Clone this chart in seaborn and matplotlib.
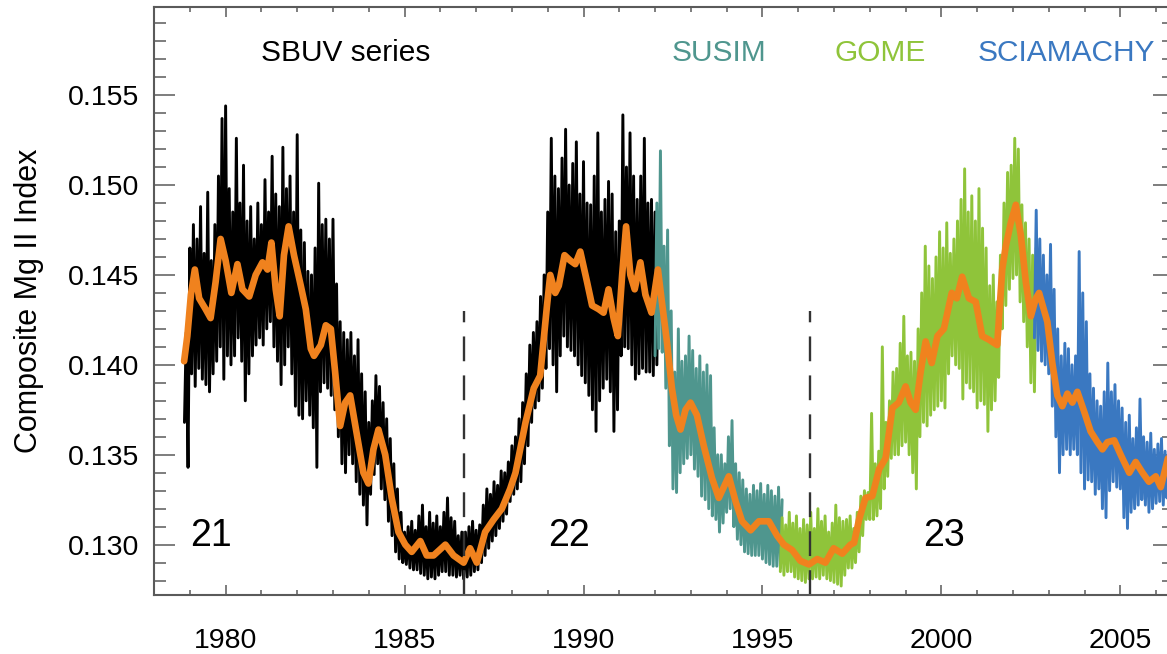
import numpy as np
import pandas as pd
import matplotlib
matplotlib.use("Agg")
import matplotlib.pyplot as plt
from matplotlib.ticker import MultipleLocator, FormatStrFormatter
import seaborn as sns

# ---- daily Mg II composite, per instrument: upper / lower excursion every 0.1 yr ----
sbuv_start = 1978.85
sbuv_hi = [0.1418, 0.1465, 0.1478, 0.1470, 0.1488, 0.1462, 0.1496, 0.1458, 0.1478, 0.1505,
           0.1537, 0.1544, 0.1498, 0.1485, 0.1526, 0.1490, 0.1511, 0.1480, 0.1488, 0.1470,
           0.1490, 0.1478, 0.1503, 0.1485, 0.1516, 0.1495, 0.1488, 0.1521, 0.1498, 0.1505,
           0.1485, 0.1528, 0.1475, 0.1468, 0.1452, 0.1450, 0.1465, 0.1501, 0.1478, 0.1481,
           0.1470, 0.1481, 0.1445, 0.1424, 0.1418, 0.1414, 0.1418, 0.1405, 0.1414, 0.1395,
           0.1385, 0.1368, 0.1380, 0.1394, 0.1388, 0.1379, 0.1370, 0.1359, 0.1345, 0.1331,
           0.1318, 0.1307, 0.1310, 0.1313, 0.1308, 0.1316, 0.1322, 0.1310, 0.1318, 0.1312,
           0.1316, 0.1310, 0.1318, 0.1326, 0.1315, 0.1313, 0.1305, 0.1307, 0.1307, 0.1310,
           0.1313, 0.1308, 0.1311, 0.1322, 0.1331, 0.1328, 0.1335, 0.1333, 0.1341, 0.1340,
           0.1346, 0.1355, 0.1360, 0.1370, 0.1379, 0.1395, 0.1411, 0.1418, 0.1424, 0.1438,
           0.1450, 0.1485, 0.1526, 0.1505, 0.1498, 0.1515, 0.1531, 0.1500, 0.1512, 0.1524,
           0.1495, 0.1513, 0.1490, 0.1489, 0.1505, 0.1529, 0.1485, 0.1492, 0.1502, 0.1495,
           0.1474, 0.1480, 0.1539, 0.1510, 0.1529, 0.1505, 0.1492, 0.1505, 0.1526, 0.1490,
           0.1492, 0.1485, 0.1480]
sbuv_lo = [0.1368, 0.1343, 0.1395, 0.1388, 0.1398, 0.1392, 0.1389, 0.1385, 0.1395, 0.1402,
           0.1410, 0.1392, 0.1405, 0.1400, 0.1405, 0.1415, 0.1402, 0.1380, 0.1395, 0.1405,
           0.1411, 0.1415, 0.1411, 0.1420, 0.1424, 0.1410, 0.1402, 0.1389, 0.1400, 0.1410,
           0.1395, 0.1377, 0.1372, 0.1370, 0.1380, 0.1372, 0.1365, 0.1343, 0.1385, 0.1390,
           0.1387, 0.1383, 0.1375, 0.1360, 0.1345, 0.1340, 0.1350, 0.1345, 0.1335, 0.1328,
           0.1322, 0.1311, 0.1328, 0.1339, 0.1345, 0.1331, 0.1325, 0.1313, 0.1305, 0.1296,
           0.1292, 0.1290, 0.1289, 0.1287, 0.1286, 0.1286, 0.1284, 0.1283, 0.1281, 0.1282,
           0.1281, 0.1283, 0.1285, 0.1285, 0.1283, 0.1283, 0.1282, 0.1283, 0.1281, 0.1282,
           0.1283, 0.1285, 0.1286, 0.1290, 0.1294, 0.1298, 0.1302, 0.1305, 0.1309, 0.1313,
           0.1317, 0.1324, 0.1328, 0.1331, 0.1335, 0.1345, 0.1355, 0.1368, 0.1376, 0.1380,
           0.1387, 0.1398, 0.1409, 0.1400, 0.1385, 0.1405, 0.1416, 0.1410, 0.1408, 0.1405,
           0.1400, 0.1394, 0.1390, 0.1383, 0.1375, 0.1363, 0.1380, 0.1387, 0.1392, 0.1385,
           0.1363, 0.1375, 0.1405, 0.1410, 0.1409, 0.1400, 0.1392, 0.1395, 0.1398, 0.1396,
           0.1396, 0.1394, 0.1400]

susim_start = 1992.0
susim_hi = [0.1490, 0.1519, 0.1466, 0.1475, 0.1430, 0.1396, 0.1420, 0.1402, 0.1405, 0.1416,
            0.1408, 0.1398, 0.1405, 0.1396, 0.1400, 0.1394, 0.1365, 0.1350, 0.1350, 0.1345,
            0.1360, 0.1369, 0.1345, 0.1340, 0.1336, 0.1331, 0.1328, 0.1333, 0.1330, 0.1334,
            0.1328, 0.1333, 0.1330, 0.1327, 0.1332, 0.1325]
susim_lo = [0.1405, 0.1409, 0.1407, 0.1387, 0.1355, 0.1331, 0.1329, 0.1340, 0.1345, 0.1348,
            0.1350, 0.1342, 0.1338, 0.1327, 0.1325, 0.1320, 0.1316, 0.1314, 0.1307, 0.1312,
            0.1318, 0.1320, 0.1310, 0.1303, 0.1300, 0.1296, 0.1295, 0.1294, 0.1294, 0.1294,
            0.1292, 0.1290, 0.1289, 0.1288, 0.1288, 0.1287]

gome_start = 1995.5
gome_hi = [0.1315, 0.1311, 0.1318, 0.1312, 0.1316, 0.1309, 0.1314, 0.1311, 0.1318, 0.1309,
           0.1320, 0.1313, 0.1316, 0.1307, 0.1312, 0.1322, 0.1315, 0.1313, 0.1314, 0.1316,
           0.1309, 0.1318, 0.1327, 0.1330, 0.1329, 0.1373, 0.1345, 0.1352, 0.1410, 0.1368,
           0.1380, 0.1396, 0.1398, 0.1412, 0.1427, 0.1405, 0.1407, 0.1402, 0.1420, 0.1440,
           0.1466, 0.1455, 0.1448, 0.1460, 0.1474, 0.1465, 0.1479, 0.1462, 0.1470, 0.1480,
           0.1492, 0.1509, 0.1485, 0.1494, 0.1480, 0.1498, 0.1476, 0.1465, 0.1444, 0.1450,
           0.1435, 0.1461, 0.1490, 0.1507, 0.1511, 0.1526, 0.1520, 0.1489, 0.1479, 0.1470,
           0.1461, 0.1465]
gome_lo = [0.1285, 0.1283, 0.1285, 0.1285, 0.1282, 0.1281, 0.1280, 0.1279, 0.1281, 0.1281,
           0.1282, 0.1281, 0.1283, 0.1281, 0.1280, 0.1279, 0.1278, 0.1277, 0.1283, 0.1287,
           0.1287, 0.1290, 0.1296, 0.1305, 0.1314, 0.1314, 0.1314, 0.1316, 0.1320, 0.1331,
           0.1338, 0.1348, 0.1350, 0.1350, 0.1355, 0.1357, 0.1350, 0.1340, 0.1331, 0.1360,
           0.1368, 0.1366, 0.1372, 0.1375, 0.1377, 0.1380, 0.1376, 0.1395, 0.1405, 0.1400,
           0.1398, 0.1381, 0.1390, 0.1387, 0.1385, 0.1376, 0.1380, 0.1378, 0.1363, 0.1375,
           0.1380, 0.1393, 0.1420, 0.1433, 0.1442, 0.1448, 0.1450, 0.1435, 0.1424, 0.1410,
           0.1390, 0.1385]

sciamachy_start = 2002.6
sciamachy_hi = [0.1486, 0.1470, 0.1461, 0.1450, 0.1467, 0.1442, 0.1420, 0.1405, 0.1412, 0.1409,
                0.1400, 0.1405, 0.1463, 0.1440, 0.1424, 0.1395, 0.1387, 0.1380, 0.1377, 0.1385,
                0.1401, 0.1385, 0.1389, 0.1380, 0.1376, 0.1368, 0.1372, 0.1359, 0.1365, 0.1381,
                0.1360, 0.1357, 0.1362, 0.1353, 0.1356, 0.1359, 0.1352, 0.1359, 0.1355, 0.1357]
sciamachy_lo = [0.1415, 0.1408, 0.1402, 0.1400, 0.1395, 0.1377, 0.1360, 0.1340, 0.1350, 0.1353,
                0.1350, 0.1353, 0.1350, 0.1340, 0.1331, 0.1336, 0.1335, 0.1328, 0.1331, 0.1320,
                0.1315, 0.1330, 0.1335, 0.1332, 0.1331, 0.1315, 0.1309, 0.1318, 0.1320, 0.1322,
                0.1325, 0.1322, 0.1318, 0.1320, 0.1323, 0.1324, 0.1322, 0.1326, 0.1325, 0.1326]

# ---- 81-day smoothed composite ----
smooth_year = [1978.84, 1978.93, 1979.03, 1979.14, 1979.26, 1979.44, 1979.58, 1979.72, 1979.86, 1980.00,
               1980.16, 1980.33, 1980.47, 1980.66, 1980.84, 1981.03, 1981.17, 1981.28, 1981.40, 1981.51,
               1981.63, 1981.76, 1981.91, 1982.10, 1982.24, 1982.38, 1982.47, 1982.66, 1982.80, 1982.94,
               1983.06, 1983.20, 1983.34, 1983.48, 1983.67, 1983.85, 1983.99, 1984.13, 1984.27, 1984.46,
               1984.64, 1984.83, 1985.02, 1985.20, 1985.44, 1985.62, 1985.81, 1986.14, 1986.37, 1986.65,
               1986.83, 1987.02, 1987.25, 1987.49, 1987.72, 1987.95, 1988.10, 1988.38, 1988.61, 1988.79,
               1988.98, 1989.07, 1989.21, 1989.31, 1989.47, 1989.63, 1989.77, 1989.91, 1990.10, 1990.24,
               1990.42, 1990.56, 1990.70, 1990.84, 1990.96, 1991.08, 1991.19, 1991.31, 1991.43, 1991.59,
               1991.73, 1991.90, 1992.08, 1992.19, 1992.33, 1992.47, 1992.59, 1992.71, 1992.85, 1992.99,
               1993.17, 1993.36, 1993.59, 1993.78, 1993.92, 1994.06, 1994.25, 1994.43, 1994.67, 1994.90,
               1995.18, 1995.41, 1995.60, 1995.83, 1996.06, 1996.30, 1996.53, 1996.76, 1996.99, 1997.23,
               1997.46, 1997.56, 1997.70, 1997.88, 1998.07, 1998.26, 1998.44, 1998.63, 1998.81, 1999.00,
               1999.14, 1999.28, 1999.42, 1999.56, 1999.73, 1999.89, 2000.07, 2000.29, 2000.43, 2000.58,
               2000.77, 2000.96, 2001.14, 2001.33, 2001.56, 2001.70, 2001.80, 2001.94, 2002.08, 2002.22,
               2002.36, 2002.50, 2002.64, 2002.73, 2002.96, 2003.10, 2003.24, 2003.38, 2003.52, 2003.66,
               2003.80, 2003.99, 2004.17, 2004.36, 2004.50, 2004.64, 2004.83, 2005.01, 2005.25, 2005.43,
               2005.62, 2005.80, 2005.99, 2006.13, 2006.33]
smooth_value = [0.1402, 0.1416, 0.1439, 0.1453, 0.1437, 0.1431, 0.1426, 0.1446, 0.1470, 0.1458,
                0.1440, 0.1456, 0.1442, 0.1438, 0.1450, 0.1457, 0.1453, 0.1468, 0.1442, 0.1427,
                0.1461, 0.1477, 0.1461, 0.1444, 0.1431, 0.1409, 0.1405, 0.1411, 0.1422, 0.1420,
                0.1396, 0.1366, 0.1379, 0.1383, 0.1361, 0.1340, 0.1334, 0.1353, 0.1364, 0.1350,
                0.1326, 0.1307, 0.1300, 0.1296, 0.1302, 0.1294, 0.1294, 0.1300, 0.1294, 0.1290,
                0.1298, 0.1290, 0.1307, 0.1314, 0.1320, 0.1331, 0.1340, 0.1368, 0.1387, 0.1394,
                0.1433, 0.1450, 0.1440, 0.1444, 0.1461, 0.1458, 0.1456, 0.1463, 0.1446, 0.1433,
                0.1431, 0.1429, 0.1442, 0.1426, 0.1416, 0.1450, 0.1477, 0.1450, 0.1442, 0.1457,
                0.1439, 0.1429, 0.1453, 0.1435, 0.1413, 0.1387, 0.1372, 0.1364, 0.1375, 0.1379,
                0.1372, 0.1355, 0.1337, 0.1326, 0.1332, 0.1338, 0.1324, 0.1313, 0.1308, 0.1313,
                0.1313, 0.1305, 0.1300, 0.1297, 0.1291, 0.1289, 0.1292, 0.1290, 0.1298, 0.1295,
                0.1300, 0.1301, 0.1314, 0.1326, 0.1327, 0.1342, 0.1348, 0.1376, 0.1379, 0.1388,
                0.1379, 0.1375, 0.1396, 0.1413, 0.1401, 0.1416, 0.1420, 0.1440, 0.1437, 0.1449,
                0.1437, 0.1435, 0.1416, 0.1414, 0.1411, 0.1453, 0.1466, 0.1479, 0.1489, 0.1472,
                0.1446, 0.1427, 0.1437, 0.1440, 0.1424, 0.1401, 0.1383, 0.1377, 0.1384, 0.1379,
                0.1385, 0.1374, 0.1363, 0.1357, 0.1353, 0.1357, 0.1358, 0.1350, 0.1340, 0.1346,
                0.1340, 0.1335, 0.1338, 0.1332, 0.1348]

# ---- annotations ----
instrument_names = ["SBUV series", "SUSIM", "GOME", "SCIAMACHY"]
instrument_colors = ["#000000", "#4f968e", "#8fc43a", "#3a78c1"]
instrument_label_year = [1981.0, 1992.45, 1997.0, 2001.0]
cycle_numbers = ["21", "22", "23"]
cycle_label_year = [1979.0, 1989.0, 1999.5]
cycle_minimum_year = [1986.65, 1996.33]
smooth_color = "#f0821e"

step = 0.1
series = [
    (instrument_names[0], sbuv_start, sbuv_hi, sbuv_lo),
    (instrument_names[1], susim_start, susim_hi, susim_lo),
    (instrument_names[2], gome_start, gome_hi, gome_lo),
    (instrument_names[3], sciamachy_start, sciamachy_hi, sciamachy_lo),
]

# interleave lower and upper excursions into one daily-looking trace
frames = []
for name, start, hi, lo in series:
    t = start + step * np.arange(len(hi))
    year = np.column_stack([t, t + step / 2]).ravel()
    value = np.column_stack([lo, hi]).ravel()
    frames.append(pd.DataFrame({"year": year, "mgii": value, "instrument": name}))
daily = pd.concat(frames, ignore_index=True)
smooth = pd.DataFrame({"year": smooth_year, "mgii": smooth_value})

sns.set_theme(style="ticks")
plt.rcParams["font.family"] = ["Liberation Sans", "DejaVu Sans"]

fig = plt.figure(figsize=(11.67, 6.54), dpi=100)
ax = fig.add_axes([0.1320, 0.0902, 0.8740, 0.8991])

for name, color in zip(instrument_names, instrument_colors):
    sns.lineplot(data=daily[daily["instrument"] == name], x="year", y="mgii",
                 color=color, lw=2.1, estimator=None, sort=False, ax=ax, legend=False)

sns.lineplot(data=smooth, x="year", y="mgii", color=smooth_color, lw=4.8,
             estimator=None, sort=False, ax=ax, legend=False,
             solid_joinstyle="round", solid_capstyle="round")

ax.vlines(cycle_minimum_year, 0.1272, 0.1430, colors="#333333", lw=1.7,
          linestyles=(0, (10.5, 6)))

for label, x, color in zip(instrument_names, instrument_label_year, instrument_colors):
    ax.text(x, 0.1569, label, color=color, fontsize=21.5, ha="left", va="baseline")
for label, x in zip(cycle_numbers, cycle_label_year):
    ax.text(x, 0.12992, label, color="black", fontsize=27, ha="left", va="baseline")

ax.set_xlim(1978, 2006.5)
ax.set_ylim(0.1272, 0.1599)
ax.xaxis.set_major_locator(MultipleLocator(5))
ax.xaxis.set_minor_locator(MultipleLocator(1))
ax.yaxis.set_major_locator(MultipleLocator(0.005))
ax.yaxis.set_minor_locator(MultipleLocator(0.001))
ax.yaxis.set_major_formatter(FormatStrFormatter("%.3f"))

frame_color = "#5a5a5a"
for side in ax.spines.values():
    side.set_color(frame_color)
    side.set_linewidth(1.5)
ax.tick_params(axis="both", which="both", direction="in", color=frame_color,
               width=1.1, top=True, right=True, labelcolor="black")
ax.tick_params(axis="x", which="major", length=7.5, pad=24, labelsize=20.5)
ax.tick_params(axis="x", which="minor", length=3.8)
ax.tick_params(axis="y", which="major", length=15, pad=11, labelsize=20.5)
ax.tick_params(axis="y", which="minor", length=8.5)

ax.set_xlabel("")
ax.set_ylabel("Composite Mg II Index", fontsize=22, labelpad=17, color="black")

fig.savefig("out.png", dpi=100)
